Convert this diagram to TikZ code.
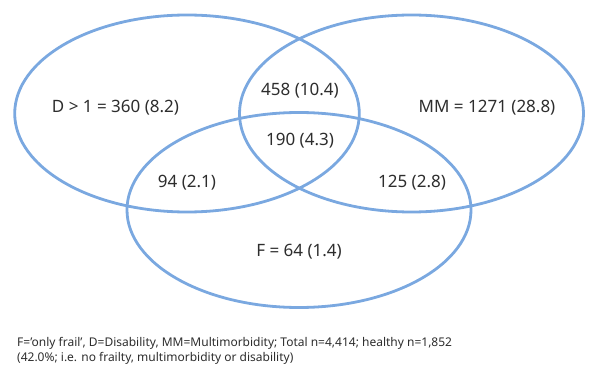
\documentclass[tikz,border=0pt]{standalone}
\usepackage{fontspec}
\setmainfont{Noto Sans}
\definecolor{venn}{RGB}{122,168,224}
\definecolor{txt}{RGB}{45,45,45}
\begin{document}
\begin{tikzpicture}[x=1pt,y=-1pt,
  set/.style={draw=venn,line width=2.8pt},
  lab/.style={text=txt,font=\fontsize{17}{20}\selectfont,inner sep=0pt},
  note/.style={text=txt,font=\fontsize{12}{15.5}\selectfont,inner sep=0pt,align=left,anchor=north west}]
\useasboundingbox (0,0) rectangle (599,382);
\draw[set] (187,113.5) ellipse [x radius=172.3,y radius=98.5];
\draw[set] (411.5,113.5) ellipse [x radius=172,y radius=98.5];
\draw[set] (299,210) ellipse [x radius=172,y radius=97.5];
\node[lab] (d) at (115.5,108) {D > 1 = 360 (8.2)};
\node[lab] (mm) at (487,108) {MM = 1271 (28.8)};
\node[lab] (dmm) at (300,91) {458 (10.4)};
\node[lab] (all) at (300,141) {190 (4.3)};
\node[lab] (df) at (187,183) {94 (2.1)};
\node[lab] (mmf) at (412,183) {125 (2.8)};
\node[lab] (f) at (299,252) {F = 64 (1.4)};
\node[note] (n) at (17,337) {F=’only frail’, D=Disability, MM=Multimorbidity; Total n=4,414; healthy n=1,852\\(42.0\%; i.e. no frailty, multimorbidity or disability)};
\end{tikzpicture}
\end{document}
